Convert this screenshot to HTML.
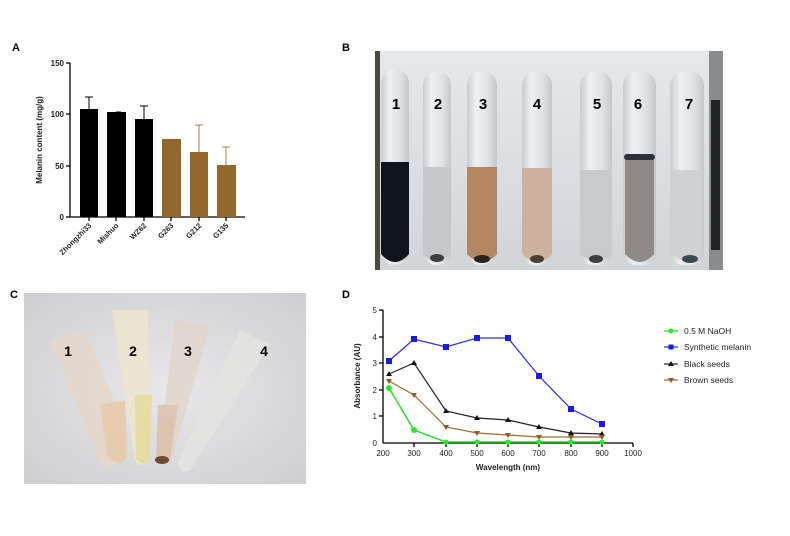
<!DOCTYPE html>
<html><head><meta charset="utf-8"><style>
html,body{margin:0;padding:0;background:#fff;}
svg{display:block;font-family:"Liberation Sans",Arial,sans-serif;}
</style></head><body>
<svg width="790" height="536" viewBox="0 0 790 536" xmlns="http://www.w3.org/2000/svg">
<defs>
<linearGradient id="tube" x1="0" x2="1"><stop offset="0" stop-color="#c9cdd0"/><stop offset="0.3" stop-color="#eef0f1"/><stop offset="0.7" stop-color="#dfe2e4"/><stop offset="1" stop-color="#c4c8cb"/></linearGradient>
<linearGradient id="bgB" x1="0" y1="0" x2="0" y2="1"><stop offset="0" stop-color="#e6e9ec"/><stop offset="1" stop-color="#d2d5d8"/></linearGradient>
<radialGradient id="bgC" cx="0.5" cy="0.5" r="0.7"><stop offset="0" stop-color="#e8e8ea"/><stop offset="1" stop-color="#cfcfd2"/></radialGradient>
</defs>
<!-- Panel labels -->
<g font-weight="bold" font-size="11" fill="#000">
<text x="12" y="51">A</text><text x="342" y="51">B</text><text x="10" y="298">C</text><text x="342" y="298">D</text>
</g>
<!-- Panel A -->
<g stroke="#000" stroke-width="1.3" fill="none">
<line x1="70" y1="63" x2="70" y2="217"/><line x1="70" y1="217" x2="245" y2="217"/>
<line x1="66" y1="63" x2="70" y2="63"/><line x1="66" y1="114" x2="70" y2="114"/><line x1="66" y1="166" x2="70" y2="166"/><line x1="66" y1="217" x2="70" y2="217"/>
<line x1="89" y1="217" x2="89" y2="221"/><line x1="116" y1="217" x2="116" y2="221"/><line x1="144" y1="217" x2="144" y2="221"/><line x1="171" y1="217" x2="171" y2="221"/><line x1="199" y1="217" x2="199" y2="221"/><line x1="226" y1="217" x2="226" y2="221"/>
</g>
<g font-size="8" font-weight="bold" fill="#222" text-anchor="end">
<text x="64" y="66">150</text><text x="64" y="117">100</text><text x="64" y="169">50</text><text x="64" y="220">0</text>
</g>
<text transform="translate(42,140) rotate(-90)" font-size="8" font-weight="bold" text-anchor="middle" fill="#222">Melanin content (mg/g)</text>
<g stroke-width="1">
<line x1="89" y1="109" x2="89" y2="97" stroke="#000"/><line x1="85" y1="97" x2="93" y2="97" stroke="#000"/>
<line x1="144" y1="119" x2="144" y2="106" stroke="#000"/><line x1="140" y1="106" x2="148" y2="106" stroke="#000"/>
<line x1="116" y1="112" x2="121" y2="112" stroke="#000"/>
<line x1="199" y1="152" x2="199" y2="125" stroke="#a87d3c"/><line x1="195" y1="125" x2="203" y2="125" stroke="#a87d3c"/>
<line x1="226" y1="165" x2="226" y2="147" stroke="#a87d3c"/><line x1="222" y1="147" x2="230" y2="147" stroke="#a87d3c"/>
</g>
<rect x="80" y="109" width="18" height="108" fill="#000"/>
<rect x="107" y="112" width="19" height="105" fill="#000"/>
<rect x="135" y="119" width="18" height="98" fill="#000"/>
<rect x="162" y="139" width="19" height="78" fill="#93682c"/>
<rect x="190" y="152" width="18" height="65" fill="#93682c"/>
<rect x="217" y="165" width="19" height="52" fill="#93682c"/>
<g font-size="7.5" font-weight="bold" fill="#222" text-anchor="end">
<text transform="translate(92,226) rotate(-45)">Zhongzhi33</text>
<text transform="translate(119,226) rotate(-45)">Mishuo</text>
<text transform="translate(147,226) rotate(-45)">WZ62</text>
<text transform="translate(174,226) rotate(-45)">G263</text>
<text transform="translate(202,226) rotate(-45)">G212</text>
<text transform="translate(229,226) rotate(-45)">G135</text>
</g>
<!-- Panel B photo -->
<rect x="375" y="51" width="348" height="219" fill="url(#bgB)"/>
<rect x="375" y="51" width="5" height="219" fill="#4a4a3c"/>
<rect x="709" y="51" width="14" height="219" fill="#8a8d90"/>
<rect x="711" y="100" width="9" height="150" fill="#222"/>
<g>
<rect x="381" y="70" width="28" height="195" rx="13" fill="url(#tube)"/>
<rect x="423" y="72" width="28" height="193" rx="13" fill="url(#tube)"/>
<rect x="467" y="72" width="30" height="193" rx="13" fill="url(#tube)"/>
<rect x="522" y="72" width="30" height="193" rx="13" fill="url(#tube)"/>
<rect x="580" y="72" width="32" height="193" rx="13" fill="url(#tube)"/>
<rect x="623" y="72" width="33" height="193" rx="13" fill="url(#tube)"/>
<rect x="670" y="72" width="34" height="193" rx="13" fill="url(#tube)"/>
<path d="M381 162 H409 V254 Q395 270 381 254Z" fill="#0f151a"/>
<path d="M423 167 H451 V254 Q437 268 423 254Z" fill="#c5c7c8"/>
<path d="M467 167 H497 V254 Q482 270 467 254Z" fill="#b48661"/>
<path d="M522 168 H552 V254 Q537 270 522 254Z" fill="#cdb39f"/>
<path d="M580 170 H612 V254 Q596 268 580 254Z" fill="#c8cacb"/>
<path d="M625 158 H654 V254 Q640 270 625 254Z" fill="#8f8a85"/>
<rect x="624" y="154" width="31" height="6" rx="3" fill="#2c3238"/>
<path d="M672 170 H702 V254 Q687 268 672 254Z" fill="#cfd1d2"/>
<ellipse cx="437" cy="258" rx="7" ry="4" fill="#3c3e40"/>
<ellipse cx="482" cy="259" rx="8" ry="4" fill="#2a2420"/>
<ellipse cx="537" cy="259" rx="7" ry="4" fill="#4a4038"/>
<ellipse cx="596" cy="259" rx="7" ry="4" fill="#3a3f44"/>
<ellipse cx="690" cy="259" rx="8" ry="4" fill="#3a4850"/>
</g>
<g font-size="15" font-weight="bold" fill="#000" text-anchor="middle">
<text x="396" y="109">1</text><text x="438" y="109">2</text><text x="483" y="109">3</text><text x="537" y="109">4</text><text x="597" y="109">5</text><text x="638" y="109">6</text><text x="689" y="109">7</text>
</g>
<!-- Panel C photo -->
<rect x="24" y="293" width="282" height="191" fill="url(#bgC)"/>
<g opacity="0.85">
<path d="M50 340 L85 330 L130 440 L115 465 Q105 470 98 460Z" fill="#e6d8cc"/>
<path d="M112 310 L148 310 L150 460 Q140 470 135 460Z" fill="#ece7cf"/>
<path d="M175 320 L210 325 L172 460 Q163 470 158 458Z" fill="#e2d6cc"/>
<path d="M240 330 L270 345 L190 470 Q180 475 178 462Z" fill="#e4e4e2"/>
<path d="M100 405 L125 400 L127 458 Q116 468 107 455Z" fill="#e9c9a8"/>
<path d="M135 395 L152 395 L150 460 Q142 468 136 458Z" fill="#e8dc9a"/>
<path d="M158 405 L178 405 L170 460 Q162 468 156 458Z" fill="#dcc0a8"/>
<ellipse cx="162" cy="460" rx="7" ry="4" fill="#5a3020"/>
</g>
<g font-size="14" font-weight="bold" fill="#000" text-anchor="middle">
<text x="68" y="356">1</text><text x="133" y="356">2</text><text x="188" y="356">3</text><text x="264" y="356">4</text>
</g>
<!-- Panel D -->
<g stroke="#000" stroke-width="1.3" fill="none">
<line x1="383" y1="310" x2="383" y2="443"/><line x1="383" y1="443" x2="633" y2="443"/>
<line x1="379" y1="310" x2="383" y2="310"/><line x1="379" y1="337" x2="383" y2="337"/><line x1="379" y1="363" x2="383" y2="363"/><line x1="379" y1="390" x2="383" y2="390"/><line x1="379" y1="416" x2="383" y2="416"/>
<line x1="414" y1="443" x2="414" y2="447"/><line x1="446" y1="443" x2="446" y2="447"/><line x1="477" y1="443" x2="477" y2="447"/><line x1="508" y1="443" x2="508" y2="447"/><line x1="539" y1="443" x2="539" y2="447"/><line x1="571" y1="443" x2="571" y2="447"/><line x1="602" y1="443" x2="602" y2="447"/><line x1="633" y1="443" x2="633" y2="447"/>
</g>
<g font-size="8" fill="#222" text-anchor="end">
<text x="377" y="313">5</text><text x="377" y="340">4</text><text x="377" y="366">3</text><text x="377" y="393">2</text><text x="377" y="419">1</text><text x="377" y="446">0</text>
</g>
<g font-size="8" fill="#222" text-anchor="middle">
<text x="383" y="456">200</text><text x="414" y="456">300</text><text x="446" y="456">400</text><text x="477" y="456">500</text><text x="508" y="456">600</text><text x="539" y="456">700</text><text x="571" y="456">800</text><text x="602" y="456">900</text><text x="633" y="456">1000</text>
</g>
<text x="508" y="470" font-size="8" font-weight="bold" text-anchor="middle" fill="#222">Wavelength (nm)</text>
<text transform="translate(360,376) rotate(-90)" font-size="8" font-weight="bold" text-anchor="middle" fill="#222">Absorbance (AU)</text>
<!-- series -->
<polyline points="389,361 414,339 446,347 477,338 508,338 539,376 571,409 602,424" fill="none" stroke="#2233dd" stroke-width="1.2"/>
<g fill="#1a1aee"><rect x="386" y="358" width="6" height="6"/><rect x="411" y="336" width="6" height="6"/><rect x="443" y="344" width="6" height="6"/><rect x="474" y="335" width="6" height="6"/><rect x="505" y="335" width="6" height="6"/><rect x="536" y="373" width="6" height="6"/><rect x="568" y="406" width="6" height="6"/><rect x="599" y="421" width="6" height="6"/></g>
<polyline points="389,374 414,363 446,411 477,418 508,420 539,427 571,433 602,434" fill="none" stroke="#222" stroke-width="1.2"/>
<g fill="#111"><path d="M389 371 l3 5 h-6z"/><path d="M414 360 l3 5 h-6z"/><path d="M446 408 l3 5 h-6z"/><path d="M477 415 l3 5 h-6z"/><path d="M508 417 l3 5 h-6z"/><path d="M539 424 l3 5 h-6z"/><path d="M571 430 l3 5 h-6z"/><path d="M602 431 l3 5 h-6z"/></g>
<polyline points="389,381 414,395 446,427 477,433 508,435 539,437 571,437 602,437" fill="none" stroke="#a06a30" stroke-width="1.2"/>
<g fill="#905c28"><path d="M389 384 l3 -5 h-6z"/><path d="M414 398 l3 -5 h-6z"/><path d="M446 430 l3 -5 h-6z"/><path d="M477 436 l3 -5 h-6z"/><path d="M508 438 l3 -5 h-6z"/><path d="M539 440 l3 -5 h-6z"/><path d="M571 440 l3 -5 h-6z"/><path d="M602 440 l3 -5 h-6z"/></g>
<polyline points="389,388 414,430 446,442 477,442 508,442 539,442 571,442 602,442" fill="none" stroke="#22dd22" stroke-width="1.4"/>
<g fill="#22ee22"><circle cx="389" cy="388" r="3"/><circle cx="414" cy="430" r="3"/><circle cx="446" cy="442" r="2.5"/><circle cx="477" cy="442" r="2.5"/><circle cx="508" cy="442" r="2.5"/><circle cx="539" cy="442" r="2.5"/><circle cx="571" cy="442" r="2.5"/><circle cx="602" cy="442" r="2.5"/></g>
<!-- legend -->
<g stroke-width="1.2">
<line x1="664" y1="331" x2="678" y2="331" stroke="#22dd22"/><circle cx="671" cy="331" r="2.5" fill="#22ee22"/>
<line x1="664" y1="347" x2="678" y2="347" stroke="#2233dd"/><rect x="668.5" y="344.5" width="5" height="5" fill="#1a1aee"/>
<line x1="664" y1="364" x2="678" y2="364" stroke="#222"/><path d="M671 361 l3 5 h-6z" fill="#111"/>
<line x1="664" y1="380" x2="678" y2="380" stroke="#a06a30"/><path d="M671 383 l3 -5 h-6z" fill="#905c28"/>
</g>
<g font-size="8.5" fill="#222">
<text x="684" y="334">0.5 M NaOH</text><text x="684" y="350">Synthetic melanin</text><text x="684" y="367">Black seeds</text><text x="684" y="383">Brown seeds</text>
</g>
</svg>
</body></html>
